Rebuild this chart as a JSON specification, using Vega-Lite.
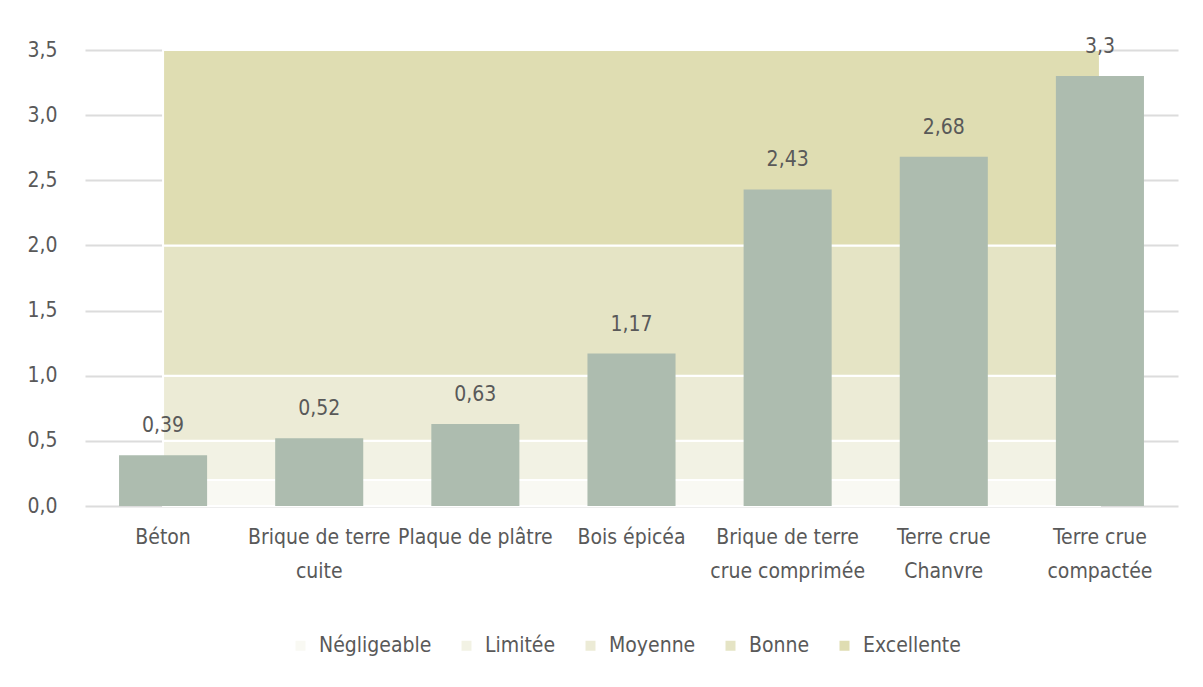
{
  "$schema": "https://vega.github.io/schema/vega-lite/v6.json",
  "autosize": {"type": "none"},
  "padding": {"left": 85, "top": 50, "right": 25, "bottom": 181},
  "width": 1093,
  "height": 456,
  "background": "white",
  "config": {
    "locale": {"number": {"decimal": ",", "thousands": " ", "grouping": [3], "currency": ["", " €"]}},
    "font": "DejaVu Sans Condensed, Roboto, sans-serif",
    "view": {"stroke": null}
  },
  "layer": [
    {
      "data": {"values": [
        {"niveau": "Négligeable", "bas": 0, "haut": 0.2, "premier": "Béton", "dernier": "Terre crue compactée"},
        {"niveau": "Limitée", "bas": 0.2, "haut": 0.5, "premier": "Béton", "dernier": "Terre crue compactée"},
        {"niveau": "Moyenne", "bas": 0.5, "haut": 1.0, "premier": "Béton", "dernier": "Terre crue compactée"},
        {"niveau": "Bonne", "bas": 1.0, "haut": 2.0, "premier": "Béton", "dernier": "Terre crue compactée"},
        {"niveau": "Excellente", "bas": 2.0, "haut": 3.5, "premier": "Béton", "dernier": "Terre crue compactée"}
      ]},
      "mark": {"type": "rect", "stroke": "white", "strokeWidth": 2},
      "encoding": {
        "x": {"field": "premier", "type": "nominal", "bandPosition": 0.5},
        "x2": {"field": "dernier", "bandPosition": 0.5},
        "y": {"field": "bas", "type": "quantitative"},
        "y2": {"field": "haut"},
        "color": {
          "field": "niveau", "type": "nominal",
          "scale": {
            "domain": ["Négligeable", "Limitée", "Moyenne", "Bonne", "Excellente"],
            "range": ["#f9f9f3", "#f2f2e4", "#ecebd6", "#e5e4c5", "#dfddb2"]
          },
          "legend": {
            "title": null,
            "orient": "none",
            "legendX": 205,
            "legendY": 585,
            "direction": "horizontal",
            "symbolType": "square",
            "symbolSize": 100,
            "symbolStrokeWidth": 0,
            "labelFontSize": 21,
            "labelColor": "#595959",
            "labelOffset": 8,
            "columnPadding": 24
          }
        }
      }
    },
    {
      "data": {"values": [
        {"materiau": "Béton", "valeur": 0.39},
        {"materiau": "Brique de terre cuite", "valeur": 0.52},
        {"materiau": "Plaque de plâtre", "valeur": 0.63},
        {"materiau": "Bois épicéa", "valeur": 1.17},
        {"materiau": "Brique de terre crue comprimée", "valeur": 2.43},
        {"materiau": "Terre crue Chanvre", "valeur": 2.68},
        {"materiau": "Terre crue compactée", "valeur": 3.3}
      ]},
      "encoding": {
        "x": {
          "field": "materiau", "type": "nominal",
          "scale": {
            "domain": ["Béton", "Brique de terre cuite", "Plaque de plâtre", "Bois épicéa", "Brique de terre crue comprimée", "Terre crue Chanvre", "Terre crue compactée"],
            "paddingInner": 0.436,
            "paddingOuter": 0.218
          },
          "axis": {
            "title": null,
            "domain": false,
            "ticks": false,
            "labelAngle": 0,
            "labelAlign": "center",
            "labelFontSize": 21,
            "labelColor": "#595959",
            "labelPadding": 20,
            "labelBaseline": "top",
            "labelLineHeight": 34,
            "labelExpr": "datum.value == 'Brique de terre cuite' ? ['Brique de terre', 'cuite'] : datum.value == 'Brique de terre crue comprimée' ? ['Brique de terre', 'crue comprimée'] : datum.value == 'Terre crue Chanvre' ? ['Terre crue', 'Chanvre'] : datum.value == 'Terre crue compactée' ? ['Terre crue', 'compactée'] : datum.value"
          }
        },
        "y": {
          "field": "valeur", "type": "quantitative",
          "scale": {"domain": [0, 3.5], "nice": false},
          "axis": {
            "title": null,
            "domain": false,
            "ticks": false,
            "values": [0, 0.5, 1, 1.5, 2, 2.5, 3, 3.5],
            "format": ".1f",
            "labelFontSize": 21,
            "labelColor": "#595959",
            "labelPadding": 28,
            "gridColor": "#dcdcdc",
            "gridWidth": 2
          }
        }
      },
      "layer": [
        {"mark": {"type": "bar", "color": "#adbcaf"}},
        {
          "mark": {"type": "text", "baseline": "alphabetic", "dy": -23, "fontSize": 21, "color": "#595959"},
          "encoding": {"text": {"field": "valeur", "type": "quantitative", "format": "~r"}}
        }
      ]
    }
  ]
}
